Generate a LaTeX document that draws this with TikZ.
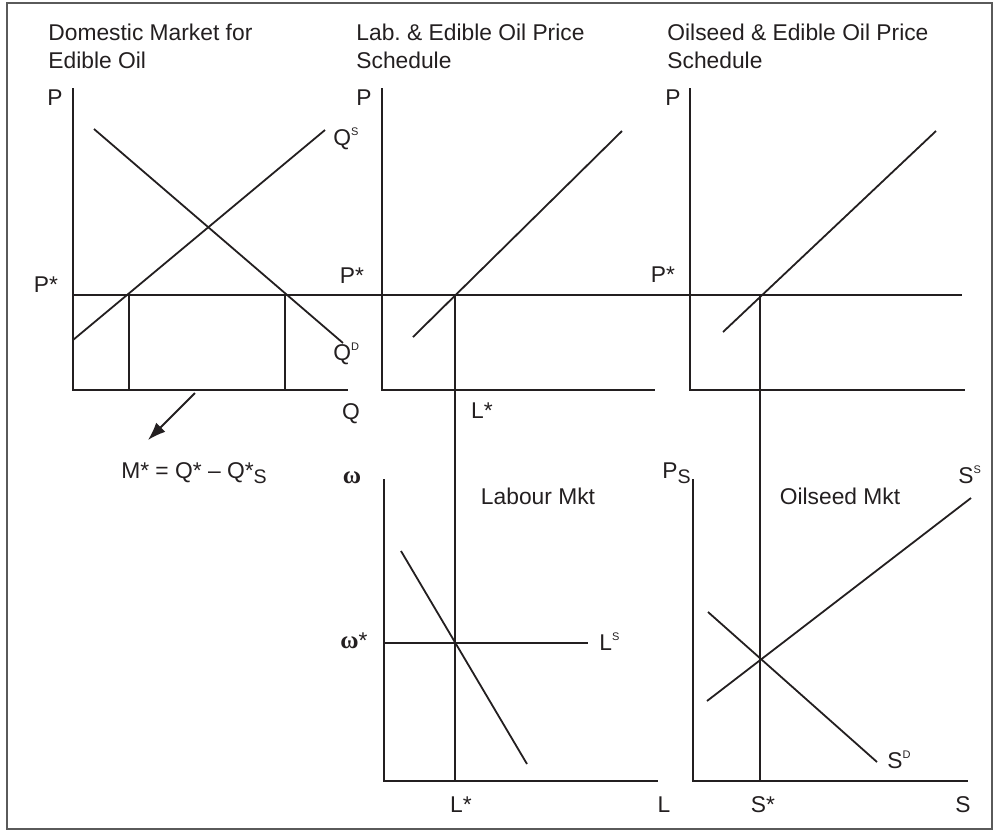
\documentclass[tikz,border=0pt]{standalone}
\usepackage{fontspec}
\setmainfont{Liberation Sans}
\newfontfamily\greekfont{Liberation Serif}
\usetikzlibrary{arrows.meta}
\definecolor{ink}{HTML}{231F20}
\definecolor{framegray}{HTML}{5A5A5A}
\newcommand{\hi}[1]{\raisebox{5pt}{\fontsize{5.5}{6}\selectfont #1}}
\newcommand{\lo}[1]{\raisebox{-2.5pt}{\fontsize{9.8}{10}\selectfont #1}}
\newcommand{\om}{{\greekfont\bfseries\fontsize{12.5}{14}\selectfont ω}}

\begin{document}
\begin{tikzpicture}[x=0.5pt,y=-0.5pt,font=\fontsize{11.4}{14}\selectfont,>=Latex]
\tikzset{axis/.style={draw=ink,line width=1pt}, curve/.style={draw=ink,line width=0.9pt}, lbl/.style={inner sep=0pt,text=ink,anchor=base}, lblw/.style={lbl,anchor=base west}, title/.style={inner sep=0pt,anchor=north west,align=left,text=ink}}
\useasboundingbox (0,0) rectangle (997,832);
\draw[framegray,line width=0.8pt] (7,3) rectangle (992,829);
% titles
\node[title] (tdom) at (48,24) {Domestic Market for\\Edible Oil};
\node[title] (tlab) at (356,24) {Lab.\ \& Edible Oil Price\\Schedule};
\node[title] (toil) at (667,24) {Oilseed \& Edible Oil Price\\Schedule};
% axes, top row and bottom row
\foreach \x/\xend in {73/348,382/655,690/965} {
  \draw[axis] (\x,88) -- (\x,390) -- (\xend,390);
}
\foreach \x/\xend in {384/658,693/968} {
  \draw[axis] (\x,479) -- (\x,781) -- (\xend,781);
}
% equilibrium points
\coordinate (eqs) at (129,295);
\coordinate (eqd) at (285,295);
\coordinate (eql) at (455,295);
\coordinate (eqo) at (760,295);
% world price line
\draw[curve] (73,295) -- (962,295);
% domestic market
\draw[curve] (73,340) -- (325,130);
\draw[curve] (94,129) -- (343,343);
\draw[curve] (eqs) -- (eqs |- 0,390);
\draw[curve] (eqd) -- (eqd |- 0,390);
% price schedules
\draw[curve] (413,337) -- (622,131);
\draw[curve] (723,332) -- (936,131);
\draw[curve] (eql) -- (eql |- 0,781);
\draw[curve] (eqo) -- (eqo |- 0,781);
% labour market
\draw[curve] (384,643) -- (588,643);
\draw[curve] (401,551) -- (527,764);
% oilseed market
\draw[curve] (707,701) -- (971,498);
\draw[curve] (708,612) -- (877,762);
% import arrow
\coordinate (mfrom) at (195,393);
\coordinate (mto) at (148,440);
\draw[draw=ink,line width=0.9pt,-{Latex[length=9pt,width=6.5pt]}] (mfrom) -- (mto);
% labels
\node[lbl] (p1) at (55,105) {P};
\node[lbl] (p2) at (364,105) {P};
\node[lbl] (p3) at (673,105) {P};
\node[lbl] (pst1) at (46,292) {P*};
\node[lbl] (pst2) at (352,283) {P*};
\node[lbl] (pst3) at (663,282) {P*};
\node[lbl] (q) at (351,419) {Q};
\node[lblw] (qs) at (333,145) {Q\hi{S}};
\node[lblw] (qd) at (333,360) {Q\hi{D}};
\node[lbl] (lst1) at (482,418) {L*};
\node[lbl] (mstar) at (194,478) {M* = Q* – Q*\lo{S}};
\node[lbl] (w) at (352,483) {\om};
\node[lbl] (wst) at (354,648) {\om*};
\node[lblw] (ls) at (599,650) {L\hi{S}};
\node[lbl] (labmkt) at (538,504) {Labour Mkt};
\node[lbl] (lst2) at (461,812) {L*};
\node[lbl] (l) at (664,812) {L};
\node[lblw] (pss) at (662,478) {P\lo{S}};
\node[lbl] (oilmkt) at (840,504) {Oilseed Mkt};
\node[lblw] (ss) at (958,483) {S\hi{S}};
\node[lblw] (sd) at (887,768) {S\hi{D}};
\node[lbl] (sst) at (763,812) {S*};
\node[lbl] (s) at (963,812) {S};
\end{tikzpicture}
\end{document}
